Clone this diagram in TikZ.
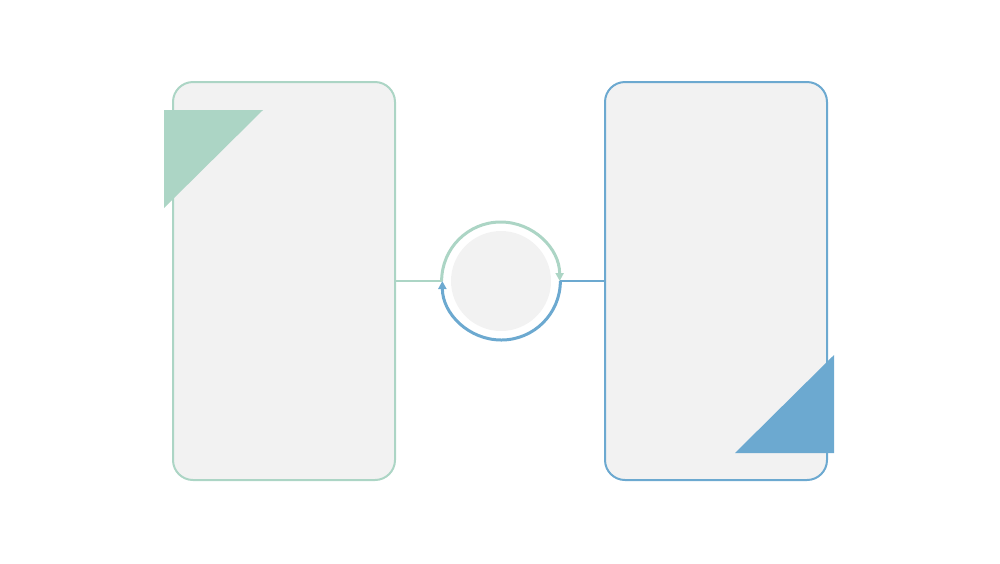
\documentclass[tikz,border=0pt]{standalone}
\usetikzlibrary{arrows.meta}
\definecolor{cardgreen}{RGB}{172,213,197}
\definecolor{cardblue}{RGB}{108,169,208}
\definecolor{cardgray}{RGB}{242,242,242}
\begin{document}
\begin{tikzpicture}[x=0.2mm,y=-0.2mm]
                \tikzstyle{every node}+=[inner sep=0pt]
                \tikzstyle{card}=[fill=cardgray, rounded corners=4mm, minimum width=44.4mm, minimum height=79.6mm, line width=0.4mm]
                \tikzstyle{ringarc}=[line width=0.6mm, -{Triangle[length=1.6mm,width=1.6mm]}]
                \useasboundingbox (0,0) rectangle (1000,563);
                \node [card, draw=cardgreen] (leftcard) at (284,281) {};
                \node [card, draw=cardblue] (rightcard) at (716,281) {};
                \fill [cardgreen] (164,110) -- (263,110) -- (164,208) -- cycle;
                \fill [cardblue] (834,355) -- (834,453) -- (735,453) -- cycle;
                \node [circle, minimum size=23.6mm] (ring) at (501,281) {};
                \node [circle, fill=cardgray, minimum size=20mm] (hub) at (501,281) {};
                \draw [cardgreen, line width=0.4mm] (leftcard.east) -- (ring.west);
                \draw [cardblue, line width=0.4mm] (ring.east) -- (rightcard.west);
                \draw [cardgreen, ringarc] (ring.west) arc (180:0:11.8mm);
                \draw [cardblue, ringarc] (ring.east) arc (0:-180:11.8mm);
\end{tikzpicture}
\end{document}
